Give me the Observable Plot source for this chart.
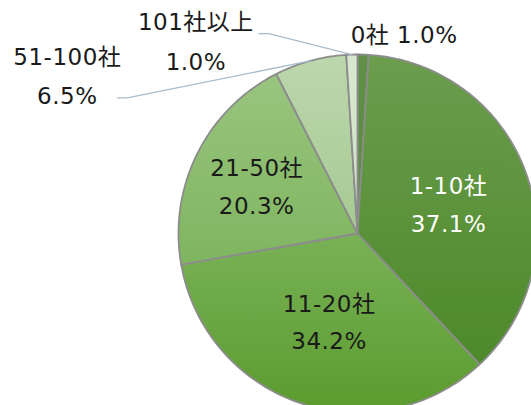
<!DOCTYPE html>
<html><head><meta charset="utf-8">
<script src="https://cdn.jsdelivr.net/npm/d3@7"></script>
<script src="https://cdn.jsdelivr.net/npm/@observablehq/plot@0.6"></script>
<style>html,body{margin:0;padding:0;background:#fff;overflow:hidden}</style>
</head><body><div id="chart"></div>
<script>
// ---- data ----
const categories = ["0社", "1-10社", "11-20社", "21-50社", "51-100社", "101社以上"];
const shares = [1.0, 37.1, 34.2, 20.3, 6.5, 1.0];
const shareLabels = ["1.0%", "37.1%", "34.2%", "20.3%", "6.5%", "1.0%"];

// ---- styles / layout ----
const gradTop    = ["#5f9046", "#6b9d4d", "#79b257", "#99c57f", "#bcd7ac", "#d7e8cf"];
const gradBottom = ["#598a3d", "#4d892a", "#5b9b2e", "#7fb55f", "#a6ca93", "#cee2c5"];
const W = 531, H = 405, CX = 357, CY = 233, R = 179;
const FONT = '"DejaVu Sans", "Noto Sans CJK JP", sans-serif';
const FS = 23;

const total = d3.sum(shares);
let acc = 0;
const slices = shares.map((v, i) => {
  const a0 = acc / total * 2 * Math.PI; acc += v;
  const a1 = acc / total * 2 * Math.PI;
  return {i, a0, a1, mid: (a0 + a1) / 2};
});
const pt = (a, r) => ({x: CX + r * Math.sin(a), y: CY - r * Math.cos(a)});

const defsMark = () => {
  const defs = d3.create("svg:defs");
  slices.forEach((s, i) => {
    const g = defs.append("linearGradient").attr("id", "g" + i)
      .attr("x1", 0).attr("y1", 0).attr("x2", 0).attr("y2", 1);
    g.append("stop").attr("offset", "0%").attr("stop-color", gradTop[i]);
    g.append("stop").attr("offset", "100%").attr("stop-color", gradBottom[i]);
  });
  return defs.node();
};

const marks = [defsMark];
slices.forEach((s, i) => {
  const n = Math.max(2, Math.ceil((s.a1 - s.a0) / (Math.PI / 180)));
  const pts = [{x: CX, y: CY}];
  for (let k = 0; k <= n; k++) pts.push(pt(s.a0 + (s.a1 - s.a0) * k / n, R));
  pts.push({x: CX, y: CY});
  marks.push(Plot.line(pts, {x: "x", y: "y", fill: `url(#g${i})`, stroke: "#8c8c8c", strokeWidth: 1.8, strokeLinejoin: "round"}));
});

const textStyle = {fontSize: FS, fontFamily: FONT, lineHeight: 1.65};

// inside labels
const insideR = {1: 0.54, 2: 0.50, 3: 0.63};
const insideColor = {1: "white", 2: "#1a1a1a", 3: "#1a1a1a"};
[1, 2, 3].forEach(i => {
  const p = pt(slices[i].mid, R * insideR[i]);
  marks.push(Plot.text([{x: p.x, y: p.y, t: categories[i] + "\n" + shareLabels[i]}],
    {x: "x", y: "y", text: "t", fill: insideColor[i], ...textStyle}));
});

// outside labels (offset from arc point, px)
const outside = [
  {i: 0, dx: 41, dy: -24, oneLine: true},
  {i: 5, dx: -156, dy: -17, lead: [[-83, -21], [-93, -21]]},
  {i: 4, dx: -243, dy: 11, lead: [[-183, 37], [-193, 37]]}
];
outside.forEach(o => {
  const p = pt(slices[o.i].mid, R);
  if (o.lead) {
    const lp = [{x: p.x, y: p.y}, ...o.lead.map(([dx, dy]) => ({x: p.x + dx, y: p.y + dy}))];
    marks.push(Plot.line(lp, {x: "x", y: "y", stroke: "#a9bccf", strokeWidth: 1.3}));
  }
  marks.push(Plot.text([{x: p.x + o.dx, y: p.y + o.dy,
      t: categories[o.i] + (o.oneLine ? " " : "\n") + shareLabels[o.i]}],
    {x: "x", y: "y", text: "t", fill: "#1a1a1a", ...textStyle, lineHeight: 1.72}));
});

const svg = Plot.plot({
  width: W, height: H, margin: 0,
  x: {domain: [0, W], range: [0, W], axis: null},
  y: {domain: [0, H], range: [0, H], axis: null},
  style: {background: "white", overflow: "hidden", letterSpacing: "0.5px"},
  marks
});
document.getElementById("chart").appendChild(svg);
</script>
</body></html>
